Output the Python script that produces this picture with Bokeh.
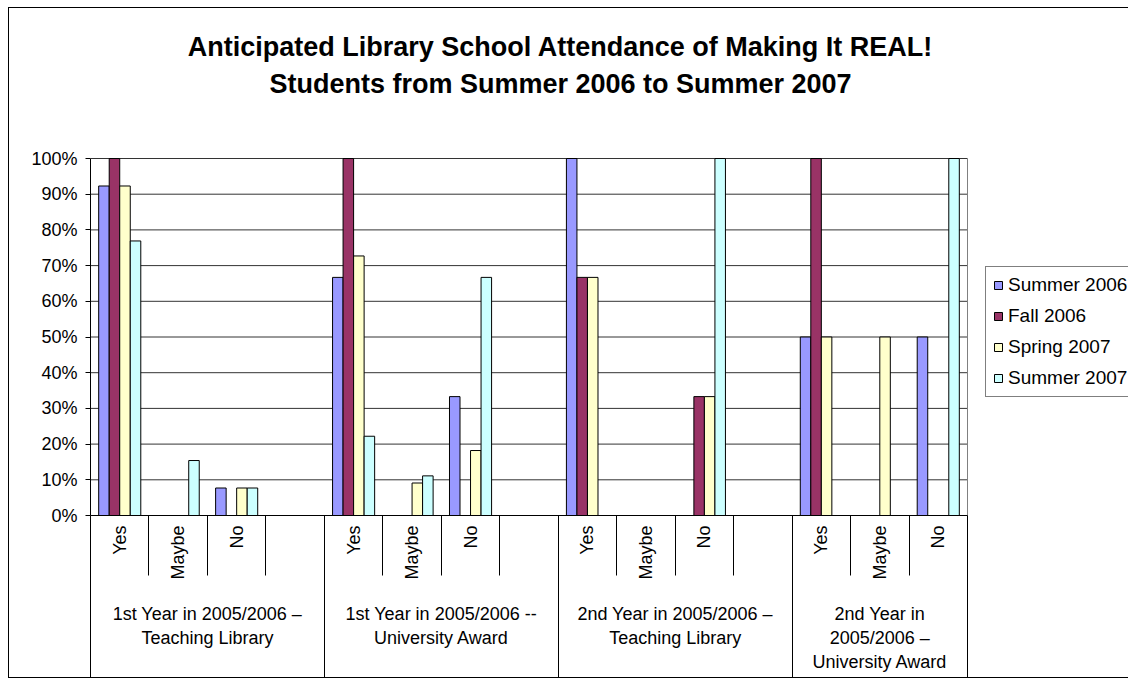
import numpy as np
from bokeh.plotting import figure
from bokeh.models import (Range1d, LinearAxis, FixedTicker, PrintfTickFormatter, Label,
                          Legend, LegendItem)
from bokeh.embed import file_html
from bokeh.resources import INLINE

# ---- data ----
groups = [
    "1st Year in 2005/2006 \u2013\nTeaching Library",
    "1st Year in 2005/2006 --\nUniversity Award",
    "2nd Year in 2005/2006 \u2013\nTeaching Library",
    "2nd Year in\n2005/2006 \u2013\nUniversity Award",
]
answers_g1 = ["Yes", "Maybe", "No", ""]
answers_g2 = ["Yes", "Maybe", "No", ""]
answers_g3 = ["Yes", "Maybe", "No", ""]
answers_g4 = ["Yes", "Maybe", "No"]
answers = [answers_g1, answers_g2, answers_g3, answers_g4]

series = ["Summer 2006", "Fall 2006", "Spring 2007", "Summer 2007"]
summer_2006 = [92.3, 0, 7.7, 0, 66.7, 0, 33.3, 0, 100, 0, 0, 0, 50, 0, 50]
fall_2006 = [100, 0, 0, 0, 100, 0, 0, 0, 66.7, 0, 33.3, 0, 100, 0, 0]
spring_2007 = [92.3, 0, 7.7, 0, 72.7, 9.1, 18.2, 0, 66.7, 0, 33.3, 0, 50, 50, 0]
summer_2007 = [76.9, 15.4, 7.7, 0, 22.2, 11.1, 66.7, 0, 0, 0, 100, 0, 0, 0, 100]
values = [summer_2006, fall_2006, spring_2007, summer_2007]
colors = ["#9999FF", "#993366", "#FFFFCC", "#CCFFFF"]

title_1 = "Anticipated Library School Attendance of Making It REAL!"
title_2 = "Students from Summer 2006 to Summer 2007"
y_ticks = list(range(0, 101, 10))

# ---- derived positions ----
slot_labels = [a for g in answers for a in g]
n = len(slot_labels)
centers = [i + 0.5 for i in range(n)]
bounds = [float(i) for i in range(n + 1)]
sizes = [len(a) for a in answers]
edges = [0.0] + [float(v) for v in np.cumsum(sizes)]
gcenters = [(edges[i] + edges[i + 1]) / 2 for i in range(len(sizes))]
y_max = max(y_ticks)

FONT = "Liberation Sans"

# layout in canvas pixels
W, H = 1120, 671
LEFT, BOTTOM = 81, 164
PLOT_RIGHT_PX, PLOT_TOP_PX = 958, 150
frame_w = W - LEFT
frame_h = H - BOTTOM
x_end = n * frame_w / (PLOT_RIGHT_PX - LEFT)
y_end = y_max * frame_h / (frame_h - PLOT_TOP_PX)

p = figure(width=W, height=H, x_range=Range1d(0, x_end), y_range=Range1d(0, y_end),
           output_backend="svg", toolbar_location=None, x_axis_location=None,
           min_border_left=LEFT, min_border_top=0, min_border_right=0,
           min_border_bottom=BOTTOM, margin=(7, 0, 0, 8),
           styles={"border-left": "1px solid black", "border-top": "1px solid black",
                   "border-bottom": "1px solid black"})

p.outline_line_color = None
p.xgrid.visible = False
p.ygrid.visible = False

# horizontal gridlines (plot area only) and right border of plot area
p.segment(x0=[0] * len(y_ticks), x1=[n] * len(y_ticks), y0=y_ticks, y1=y_ticks,
          line_color="#333333", line_width=1)
p.segment(x0=[n], x1=[n], y0=[0], y1=[y_max], line_color="#808080", line_width=1)

ya = p.yaxis[0]
ya.bounds = (0, y_max)
ya.ticker = FixedTicker(ticks=y_ticks)
ya.formatter = PrintfTickFormatter(format="%d%%")
ya.axis_line_color = "black"
ya.major_tick_out = 5
ya.major_tick_in = 0
ya.major_tick_line_color = "black"
ya.minor_tick_line_color = None
ya.major_label_text_font = FONT
ya.major_label_text_font_size = "18px"
ya.major_label_text_color = "black"
ya.major_label_standoff = 8

bw = 0.18
items = []
for k, (name, vals, col) in enumerate(zip(series, values, colors)):
    xs = [c + (k - 1.5) * bw for c in centers]
    r = p.vbar(x=xs, top=vals, width=bw, fill_color=col, line_color="black", line_width=1)
    items.append(LegendItem(label=name, renderers=[r]))

# sub-category axis
axA = LinearAxis(ticker=FixedTicker(ticks=centers, minor_ticks=bounds),
                 major_label_overrides={c: lab for c, lab in zip(centers, slot_labels)})
axA.bounds = (0, n)
axA.axis_line_color = "black"
axA.major_tick_out = 0
axA.major_tick_in = 0
axA.major_tick_line_color = None
axA.minor_tick_out = 60
axA.minor_tick_in = 0
axA.minor_tick_line_color = "black"
axA.major_label_orientation = np.pi / 2
axA.major_label_text_font = FONT
axA.major_label_text_font_size = "18px"
axA.major_label_text_color = "black"
axA.major_label_standoff = -50
p.add_layout(axA, "below")

# group axis
axB = LinearAxis(ticker=FixedTicker(ticks=gcenters, minor_ticks=edges),
                 major_label_overrides={c: g for c, g in zip(gcenters, groups)})
axB.bounds = (0, n)
axB.axis_line_color = None
axB.major_tick_out = 0
axB.major_tick_in = 0
axB.major_tick_line_color = None
axB.minor_tick_in = 64
axB.minor_tick_out = 97
axB.minor_tick_line_color = "black"
axB.major_label_text_font = FONT
axB.major_label_text_font_size = "18px"
axB.major_label_text_color = "black"
axB.major_label_text_line_height = 1.2
axB.major_label_standoff = -76
p.add_layout(axB, "below")

for txt, yy in [(title_1, 469), (title_2, 432)]:
    p.add_layout(Label(x=470, y=yy, x_units="screen", y_units="screen", text=txt,
                       text_align="center", text_baseline="middle",
                       text_font=FONT, text_font_size="27px",
                       text_font_style="bold", text_color="black"))

lg = Legend(items=items, location=(895, 118))
lg.border_line_color = "black"
lg.border_line_width = 1
lg.background_fill_color = "white"
lg.background_fill_alpha = 1
lg.padding = 7
lg.spacing = 9
lg.margin = 0
lg.glyph_width = 10
lg.glyph_height = 10
lg.label_height = 20
lg.label_standoff = 5
lg.label_text_font = FONT
lg.label_text_font_size = "19px"
lg.label_text_color = "black"
p.add_layout(lg, "center")

open("out.html", "w").write(file_html(p, INLINE))
